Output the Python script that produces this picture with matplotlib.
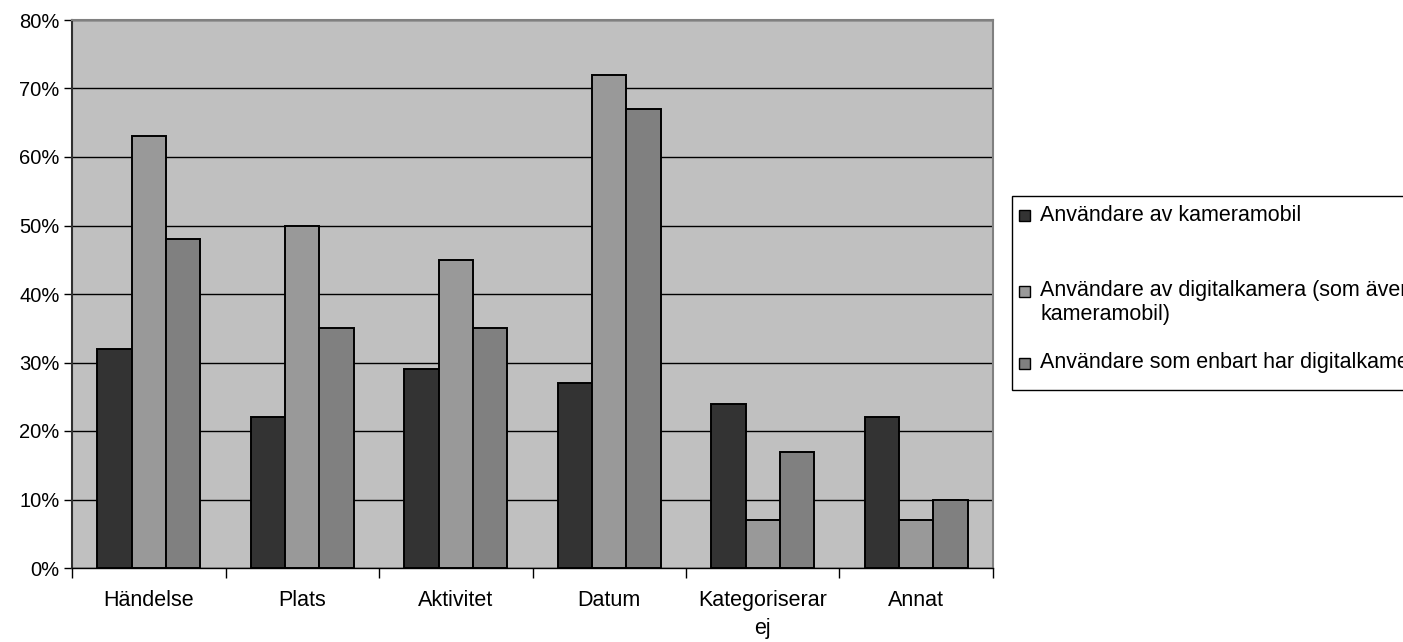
import numpy as np
import matplotlib.pyplot as plt
from matplotlib.patches import Rectangle

plt.rcParams['font.family'] = ['Liberation Sans', 'DejaVu Sans']

categories = ["Händelse", "Plats", "Aktivitet", "Datum", "Kategoriserar\nej", "Annat"]
kameramobil = [32, 22, 29, 27, 24, 22]
digitalkamera_aven_mobil = [63, 50, 45, 72, 7, 7]
enbart_digitalkamera = [48, 35, 35, 67, 17, 10]
series_labels = ["Användare av kameramobil",
                 "Användare av digitalkamera (som även har\nkameramobil)",
                 "Användare som enbart har digitalkamera"]
colors = ["#333333", "#999999", "#808080"]
yticks = [0, 10, 20, 30, 40, 50, 60, 70, 80]

fig = plt.figure(figsize=(14.03, 6.42), dpi=100)
ax = fig.add_axes([72 / 1403, 1 - 568 / 642, (993 - 72) / 1403, (568 - 20) / 642])
ax.set_facecolor("#C0C0C0")

x = np.arange(len(categories))
w = 0.224
for i, vals in enumerate([kameramobil, digitalkamera_aven_mobil, enbart_digitalkamera]):
    ax.bar(x + (i - 1) * w, vals, width=w, color=colors[i], edgecolor="black",
           linewidth=1.4, zorder=3)

ax.set_xlim(-0.5, len(categories) - 0.5)
ax.set_ylim(0, 80)
ax.set_yticks(yticks)
ax.set_yticklabels([f"{t}%" for t in yticks], fontsize=14.5)
ax.yaxis.grid(True, color="black", linewidth=1, zorder=1)
ax.set_axisbelow(True)

# category labels centred in each slot, tick marks on the slot boundaries
ax.set_xticks(x)
ax.set_xticklabels(categories, fontsize=15.5, linespacing=1.45)
ax.tick_params(axis="x", length=0, pad=16)
ax.set_xticks(np.arange(len(categories) + 1) - 0.5, minor=True)
ax.tick_params(axis="x", which="minor", length=7, width=1, color="black")
ax.tick_params(axis="y", length=6, width=1, color="black", pad=3)

for side in ["top", "right"]:
    ax.spines[side].set_color("#808080")
    ax.spines[side].set_linewidth(1.5)
ax.spines["left"].set_color("#303030")
ax.spines["left"].set_linewidth(1.5)
ax.spines["bottom"].set_color("black")
ax.spines["bottom"].set_linewidth(1)

# legend box, running off the right edge of the figure
fw, fh = 1403, 642
fig.patches.append(Rectangle((1012 / fw, 1 - 390 / fh), 420 / fw, 194 / fh,
                             transform=fig.transFigure, facecolor="white",
                             edgecolor="black", linewidth=1))
entry_y = [216, 291, 363]
for lab, col, y in zip(series_labels, colors, entry_y):
    fig.patches.append(Rectangle((1019 / fw, 1 - (y + 5.5) / fh), 11 / fw, 11 / fh,
                                 transform=fig.transFigure, facecolor=col,
                                 edgecolor="black", linewidth=1))
    fig.text(1040 / fw, 1 - (y - 11) / fh, lab, fontsize=15.5, va="top", ha="left",
             linespacing=1.2)

fig.savefig("out.png", dpi=100)
